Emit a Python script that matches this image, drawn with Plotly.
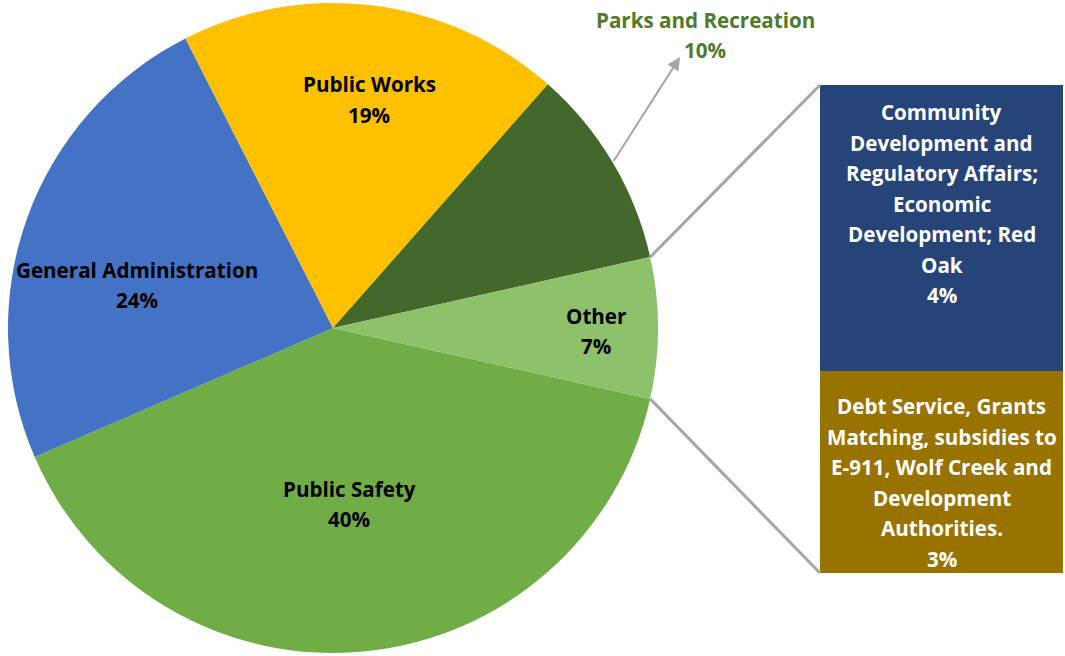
import math
import plotly.graph_objects as go

# ---------------- data ----------------
pie_labels = ["Public Safety", "General Administration", "Public Works", "Parks and Recreation", "Other"]
pie_values = [40, 24, 19, 10, 7]
bar_labels = ["Debt Service, Grants<br>Matching, subsidies to<br>E-911, Wolf Creek and<br>Development<br>Authorities.",
              "Community<br>Development and<br>Regulatory Affairs;<br>Economic<br>Development; Red<br>Oak"]
bar_values = [2.9, 4.1]

# ---------------- style ----------------
pie_colors = ["#70AD47", "#4472C4", "#FFC000", "#43682B", "#8DC26A"]
bar_colors = ["#997300", "#264478"]
W, H = 1065, 656
FONT = "Open Sans"
FS = 20.6
LINE = 30.5

# pie geometry in pixels
pie_left, pie_right, pie_top, pie_bottom = 8, 658, 3, 653
cx, cy = (pie_left + pie_right) / 2, (pie_top + pie_bottom) / 2
R = (pie_right - pie_left) / 2
# bar geometry in pixels
bar_left, bar_right, bar_top, bar_bottom = 820, 1063, 85, 573

def px(x):
    return x / W

def py(y):
    return 1 - y / H

total = sum(pie_values)
other_half_deg = pie_values[-1] / total * 360 / 2
rotation = 90 + other_half_deg  # clockwise from 12 o'clock, Other centred at 3 o'clock

fig = go.Figure()
fig.add_trace(go.Pie(
    labels=pie_labels, values=pie_values, sort=False, direction="clockwise",
    rotation=rotation, marker=dict(colors=pie_colors, line=dict(width=0)),
    textinfo="none", hoverinfo="label+percent", showlegend=False,
    domain=dict(x=[px(pie_left), px(pie_right)], y=[py(pie_bottom), py(pie_top)]),
))

# pie-of-bar stacked bar
for lab, val, col in zip(bar_labels, bar_values, bar_colors):
    fig.add_trace(go.Bar(x=[0], y=[val], width=1, marker=dict(color=col, line=dict(width=0)),
                         showlegend=False, hoverinfo="y", name=lab.replace("<br>", " ")))

fig.update_layout(
    barmode="stack", width=W, height=H, margin=dict(l=0, r=0, t=0, b=0),
    paper_bgcolor="white", plot_bgcolor="rgba(0,0,0,0)",
    xaxis=dict(domain=[px(bar_left), px(bar_right)], range=[-0.5, 0.5], visible=False, fixedrange=True),
    yaxis=dict(domain=[py(bar_bottom), py(bar_top)], range=[0, sum(bar_values)], visible=False, fixedrange=True),
    font=dict(family=FONT),
)

def multiline(lines, x, y, xref, yref, color):
    n = len(lines)
    for i, line in enumerate(lines):
        fig.add_annotation(x=x, y=y, xref=xref, yref=yref, text=line, showarrow=False,
                           xanchor="center", yanchor="middle",
                           yshift=((n - 1) / 2 - i) * LINE,
                           font=dict(family=FONT, size=FS, color=color, weight="bold"))

# slice angles (standard math angle, degrees)
starts, mids = [], []
a = -other_half_deg
for v in pie_values:
    span = v / total * 360
    starts.append(a)
    mids.append(a - span / 2)
    a -= span

def edge(angle_deg, r):
    t = math.radians(angle_deg)
    return cx + r * math.cos(t), cy - r * math.sin(t)

# inside label placement: radial fraction and angular offset per slice
label_frac = [0.544, 0.618, 0.712, None, 0.81]
label_off = [-0.2, 7.4, -1.8, 0, -0.65]
for lab, v, m, f, o in zip(pie_labels, pie_values, mids, label_frac, label_off):
    if f is None:
        continue
    x, y = edge(m + o, f * R)
    multiline([lab, f"{round(v / total * 100)}%"], px(x), py(y), "paper", "paper", "black")

# outside label for Parks and Recreation with arrow
pi = pie_labels.index("Parks and Recreation")
tail = edge(mids[pi], R)
tip = (680, 57)
fig.add_annotation(x=px(tip[0]), y=py(tip[1]), xref="paper", yref="paper", text="",
                   showarrow=True, ax=tail[0] - tip[0], ay=tail[1] - tip[1],
                   arrowhead=2, arrowsize=1.3, arrowwidth=2, arrowcolor="#A6A6A6", standoff=0, startstandoff=0)
multiline([pie_labels[pi], f"{round(pie_values[pi] / total * 100)}%"], px(705), py(35), "paper", "paper", "#4F7A2B")

# connector lines from the Other slice to the bar
oi = pie_labels.index("Other")
upper = edge(starts[oi], R)
lower = edge(starts[oi] - pie_values[oi] / total * 360, R)
fig.add_shape(type="line", xref="paper", yref="paper", x0=px(upper[0]), y0=py(upper[1]),
              x1=px(bar_left), y1=py(bar_top), line=dict(color="#A6A6A6", width=3))
fig.add_shape(type="line", xref="paper", yref="paper", x0=px(lower[0]), y0=py(lower[1]),
              x1=px(bar_left), y1=py(bar_bottom), line=dict(color="#A6A6A6", width=3))

# bar labels
base = 0
bar_text_frac = [0.448, 0.584]
for lab, val, fr in zip(bar_labels, bar_values, bar_text_frac):
    lines = lab.split("<br>") + [f"{round(val)}%"]
    multiline(lines, 0, base + val * fr, "x", "y", "white")
    base += val

fig.write_html("out.html", config={"displayModeBar": False},
               post_script="document.body.style.margin='0px';")
